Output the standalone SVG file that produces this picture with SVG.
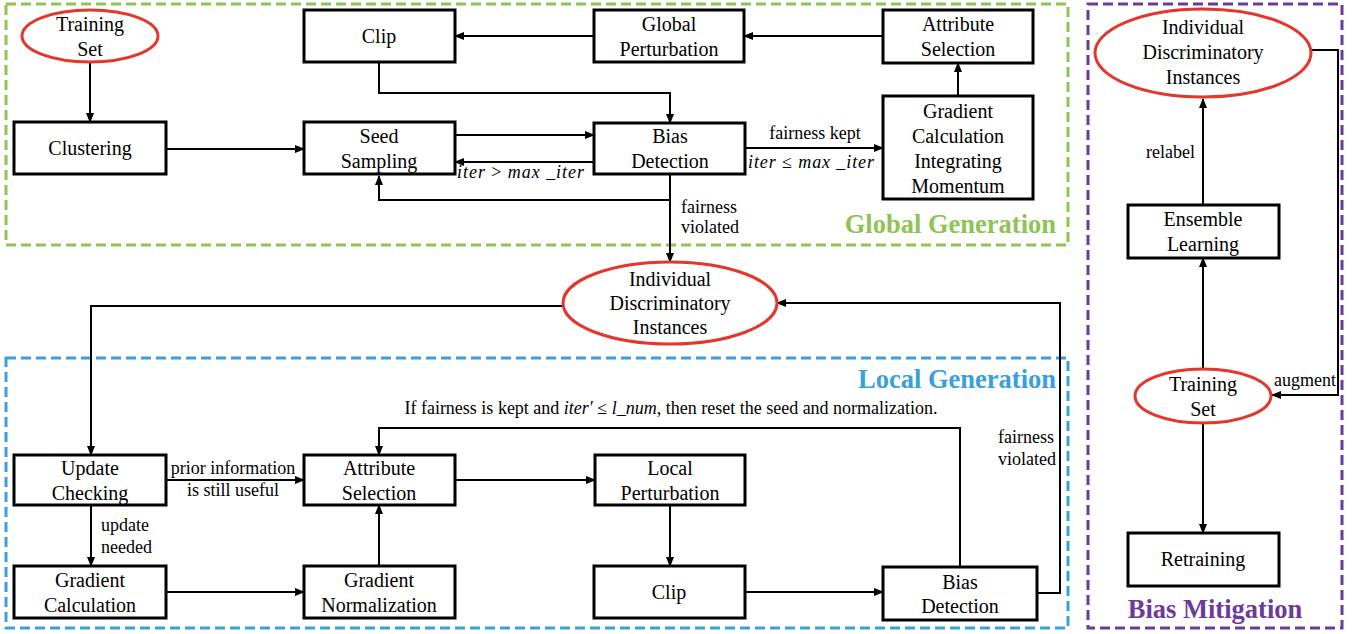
<svg xmlns="http://www.w3.org/2000/svg" width="1364" height="634" viewBox="0 0 1364 634">
<defs>
<marker id="ah" markerWidth="10" markerHeight="8" refX="9" refY="4" orient="auto" markerUnits="userSpaceOnUse">
<path d="M0,0 L10,4 L0,8 Z" fill="#000"/>
</marker>
<style>
.box{fill:#fff;stroke:#000;stroke-width:3}
.ell{fill:#fff;stroke:#E5362B;stroke-width:3}
.t{font-family:'Liberation Serif','Tinos','DejaVu Serif',serif;font-size:20px;fill:#000;text-anchor:middle}
.l{font-family:'Liberation Serif','Tinos','DejaVu Serif',serif;font-size:18px;fill:#000}
.m{font-style:italic}
.c{fill:none;stroke:#000;stroke-width:2;marker-end:url(#ah)}
.frame{fill:none;stroke-width:3;stroke-dasharray:10,5}
.title{font-family:'Liberation Serif','Tinos','DejaVu Serif',serif;font-size:26.5px;font-weight:bold}
</style>
</defs>
<rect width="1364" height="634" fill="#fff"/>

<g id="frames">
<rect class="frame" x="6" y="4" width="1062" height="241" stroke="#8DC454"/>
<rect class="frame" x="6" y="358" width="1062" height="270" stroke="#3A9FDD"/>
<rect class="frame" x="1088" y="4" width="254" height="624" stroke="#6B3A9B"/>
<text class="title" x="1056" y="233" text-anchor="end" fill="#8DC454">Global Generation</text>
<text class="title" x="1056" y="388" text-anchor="end" fill="#3A9FDD">Local Generation</text>
<text class="title" x="1215" y="618" text-anchor="middle" fill="#6B3A9B">Bias Mitigation</text>
</g>

<g id="connectors">
<path class="c" d="M90,63 V122"/>
<path class="c" d="M166,149 H304"/>
<path class="c" d="M455,135 H594"/>
<path class="c" d="M594,162 H455"/>
<path class="c" d="M379,62 V93 H670 V123"/>
<path class="c" d="M670,174 V200 H379 V176"/>
<path class="c" d="M670,200 V262"/>
<path class="c" d="M745,148 H883"/>
<path class="c" d="M958,96 V63"/>
<path class="c" d="M883,36 H744"/>
<path class="c" d="M594,36 H455"/>
<path class="c" d="M563,306 H91 V455"/>
<path class="c" d="M1037,593 H1060 V303 H777"/>
<path class="c" d="M166,480 H304"/>
<path class="c" d="M91,505 V566"/>
<path class="c" d="M166,592 H304"/>
<path class="c" d="M379,566 V505"/>
<path class="c" d="M455,480 H595"/>
<path class="c" d="M670,505 V566"/>
<path class="c" d="M745,592 H883"/>
<path class="c" d="M960,567 V428 H379 V455"/>
<path class="c" d="M1203,205 V99"/>
<path class="c" d="M1203,369 V258"/>
<path class="c" d="M1203,423 V533"/>
<path class="c" d="M1310,50 H1338 V395 H1272"/>

<text class="l" x="457" y="178" textLength="127" lengthAdjust="spacing"><tspan class="m">iter</tspan> &gt; <tspan class="m">max _iter</tspan></text>
<text class="l" x="815" y="139" text-anchor="middle">fairness kept</text>
<text class="l" x="748" y="168" textLength="126" lengthAdjust="spacing"><tspan class="m">iter</tspan> ≤ <tspan class="m">max _iter</tspan></text>
<text class="l" x="681" y="213">fairness</text>
<text class="l" x="681" y="233">violated</text>
<text class="l" x="233" y="474" text-anchor="middle">prior information</text>
<text class="l" x="233" y="496" text-anchor="middle">is still useful</text>
<text class="l" x="101" y="531">update</text>
<text class="l" x="101" y="553">needed</text>
<text class="l" x="998" y="443">fairness</text>
<text class="l" x="998" y="465">violated</text>
<text class="l" x="671" y="414" text-anchor="middle">If fairness is kept and <tspan class="m">iter′</tspan> ≤ <tspan class="m">l_num</tspan>, then reset the seed and normalization.</text>
<text class="l" x="1195" y="158" text-anchor="end">relabel</text>
<text class="l" x="1274" y="386">augment</text>
</g>

<g id="training-set-global">
<ellipse class="ell" cx="90" cy="36" rx="68" ry="26"/>
<text class="t" x="90" y="31">Training</text>
<text class="t" x="90" y="56">Set</text>
</g>
<g id="clustering">
<rect class="box" x="14" y="122" width="152" height="52"/>
<text class="t" x="90" y="155">Clustering</text>
</g>
<g id="clip-global">
<rect class="box" x="304" y="10" width="151" height="52"/>
<text class="t" x="379" y="43">Clip</text>
</g>
<g id="seed-sampling">
<rect class="box" x="304" y="122" width="151" height="52"/>
<text class="t" x="379" y="143">Seed</text>
<text class="t" x="379" y="168">Sampling</text>
</g>
<g id="global-perturbation">
<rect class="box" x="594" y="10" width="150" height="52"/>
<text class="t" x="669" y="31">Global</text>
<text class="t" x="669" y="56">Perturbation</text>
</g>
<g id="bias-detection-global">
<rect class="box" x="594" y="123" width="151" height="51"/>
<text class="t" x="670" y="143">Bias</text>
<text class="t" x="670" y="168">Detection</text>
</g>
<g id="attribute-selection-global">
<rect class="box" x="883" y="10" width="150" height="53"/>
<text class="t" x="958" y="31">Attribute</text>
<text class="t" x="958" y="56">Selection</text>
</g>
<g id="gradient-momentum">
<rect class="box" x="883" y="96" width="150" height="103"/>
<text class="t" x="958" y="118">Gradient</text>
<text class="t" x="958" y="143">Calculation</text>
<text class="t" x="958" y="168">Integrating</text>
<text class="t" x="958" y="193">Momentum</text>
</g>
<g id="idi-main">
<ellipse class="ell" cx="670" cy="303" rx="107" ry="41"/>
<text class="t" x="670" y="286">Individual</text>
<text class="t" x="670" y="310">Discriminatory</text>
<text class="t" x="670" y="334">Instances</text>
</g>
<g id="update-checking">
<rect class="box" x="14" y="455" width="152" height="50"/>
<text class="t" x="90" y="475">Update</text>
<text class="t" x="90" y="500">Checking</text>
</g>
<g id="gradient-calculation">
<rect class="box" x="14" y="566" width="152" height="52"/>
<text class="t" x="90" y="587">Gradient</text>
<text class="t" x="90" y="612">Calculation</text>
</g>
<g id="attribute-selection-local">
<rect class="box" x="304" y="455" width="151" height="50"/>
<text class="t" x="379" y="475">Attribute</text>
<text class="t" x="379" y="500">Selection</text>
</g>
<g id="gradient-normalization">
<rect class="box" x="304" y="566" width="151" height="52"/>
<text class="t" x="379" y="587">Gradient</text>
<text class="t" x="379" y="612">Normalization</text>
</g>
<g id="local-perturbation">
<rect class="box" x="595" y="455" width="150" height="50"/>
<text class="t" x="670" y="475">Local</text>
<text class="t" x="670" y="500">Perturbation</text>
</g>
<g id="clip-local">
<rect class="box" x="594" y="566" width="151" height="52"/>
<text class="t" x="669" y="599">Clip</text>
</g>
<g id="bias-detection-local">
<rect class="box" x="883" y="567" width="154" height="53"/>
<text class="t" x="960" y="589">Bias</text>
<text class="t" x="960" y="613">Detection</text>
</g>
<g id="idi-mitigation">
<ellipse class="ell" cx="1203" cy="53" rx="108" ry="44"/>
<text class="t" x="1203" y="34">Individual</text>
<text class="t" x="1203" y="59">Discriminatory</text>
<text class="t" x="1203" y="84">Instances</text>
</g>
<g id="ensemble-learning">
<rect class="box" x="1128" y="205" width="151" height="53"/>
<text class="t" x="1203" y="226">Ensemble</text>
<text class="t" x="1203" y="251">Learning</text>
</g>
<g id="training-set-mitigation">
<ellipse class="ell" cx="1203" cy="396" rx="68" ry="27"/>
<text class="t" x="1203" y="391">Training</text>
<text class="t" x="1203" y="416">Set</text>
</g>
<g id="retraining">
<rect class="box" x="1128" y="533" width="151" height="53"/>
<text class="t" x="1203" y="566">Retraining</text>
</g>
</svg>
